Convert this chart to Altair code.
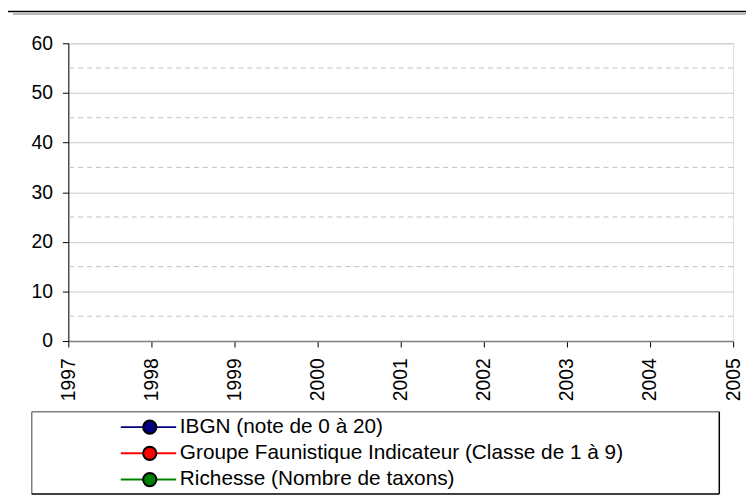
import altair as alt

years = [1997, 1998, 1999, 2000, 2001, 2002, 2003, 2004, 2005]
series_names = [
    "IBGN (note de 0 à 20)",
    "Groupe Faunistique Indicateur (Classe de 1 à 9)",
    "Richesse (Nombre de taxons)",
]
series_codes = ["s1", "s2", "s3"]
series_colors = ["#000080", "#ff0000", "#008000"]
ibgn = [None, None, None, None, None, None, None, None, None]
gfi = [None, None, None, None, None, None, None, None, None]
richesse = [None, None, None, None, None, None, None, None, None]
y_major = [0, 10, 20, 30, 40, 50, 60]
y_minor = [5, 15, 25, 35, 45, 55]

rows = []
for name, code, vals in zip(series_names, series_codes, [ibgn, gfi, richesse]):
    for yr, v in zip(years, vals):
        rows.append({"annee": yr, "valeur": v, "serie": name, "code": code})

FONT = "Liberation Sans"
base = alt.Chart(alt.Data(values=rows))

y_scale = alt.Scale(domain=[0, 60], nice=False)
y_axis = alt.Axis(
    values=y_major, grid=True, gridColor="#c8c8c8", gridWidth=1,
    domainColor="black", domainWidth=1, tickColor="black", tickSize=6,
    labelPadding=10, labelFontSize=19.5, labelColor="black",
    labelFont=FONT, title=None,
)
x_enc = alt.X(
    "annee:Q",
    scale=alt.Scale(domain=[1997, 2005], nice=False, zero=False),
    axis=alt.Axis(
        values=years, format="d", labelAngle=270, labelAlign="right",
        labelBaseline="middle", labelPadding=11, tickSize=6, grid=False,
        domainColor="#808080", domainWidth=1.5, tickColor="black",
        labelFontSize=19.5, labelColor="black", labelFont=FONT, title=None,
        labelFlush=False, labelOverlap=False,
    ),
)
y_enc = alt.Y("valeur:Q", scale=y_scale, axis=y_axis)

minor = alt.Chart(alt.Data(values=[{"valeur": v} for v in y_minor])).mark_rule(
    color="#c0c0c0", strokeDash=[5, 4], strokeWidth=1
).encode(y=alt.Y("valeur:Q", scale=y_scale, axis=y_axis))

lines = base.mark_line(strokeWidth=2).encode(
    x=x_enc, y=y_enc,
    stroke=alt.Stroke(
        "code:N",
        scale=alt.Scale(domain=series_codes, range=series_colors),
        legend=alt.Legend(
            orient="none", legendX=52, legendY=377.5, title=None,
            symbolType="stroke", symbolSize=3136, symbolStrokeWidth=2,
            labelExpr="''", labelFontSize=21, labelFont=FONT,
            clipHeight=21, rowPadding=4.5, padding=0, symbolOpacity=1,
        ),
    ),
)

points = base.mark_point(
    filled=True, size=180, stroke="black", strokeWidth=2, opacity=1
).encode(
    x=x_enc, y=y_enc,
    fill=alt.Fill(
        "serie:N",
        scale=alt.Scale(domain=series_names, range=series_colors),
        legend=alt.Legend(
            orient="none", legendX=71.8, legendY=377.5, title=None,
            symbolType="circle", symbolSize=180, symbolStrokeColor="black",
            symbolStrokeWidth=2, symbolOpacity=1, labelOffset=19.9,
            labelFontSize=21, labelFont=FONT, labelColor="black",
            labelLimit=0, clipHeight=21, rowPadding=4.5, padding=0,
        ),
    ),
)

deco = alt.Chart(alt.Data(values=[{"d": 0}]))
frame = [
    deco.mark_rect(color="black").encode(
        x=alt.value(-61), x2=alt.value(685), y=alt.value(-33), y2=alt.value(-31.5)),
    deco.mark_rule(color="#a0a0a0", strokeWidth=1.5).encode(
        x=alt.value(-56), x2=alt.value(685), y=alt.value(-29.5)),
    # legend box
    deco.mark_rule(color="#808080", strokeWidth=1.5).encode(
        x=alt.value(-37), x2=alt.value(658), y=alt.value(372.5)),
    deco.mark_rule(color="#808080", strokeWidth=1.5).encode(
        x=alt.value(-37), y=alt.value(372.5), y2=alt.value(455.5)),
    deco.mark_rule(color="black", strokeWidth=1.5).encode(
        x=alt.value(658), y=alt.value(372.5), y2=alt.value(455.5)),
    deco.mark_rule(color="black", strokeWidth=1.5).encode(
        x=alt.value(-37), x2=alt.value(658), y=alt.value(455.5)),
]

chart = alt.layer(minor, lines, points, *frame).properties(
    width=672, height=301,
    autosize=alt.AutoSizeParams(type="none"),
    padding={"left": 61, "top": 33, "right": 13, "bottom": 159},
).configure_view(
    stroke="#c0c0c0", strokeWidth=1.5
).configure(background="white")

chart.save("out.html", embed_options={"renderer": "svg", "actions": False})
